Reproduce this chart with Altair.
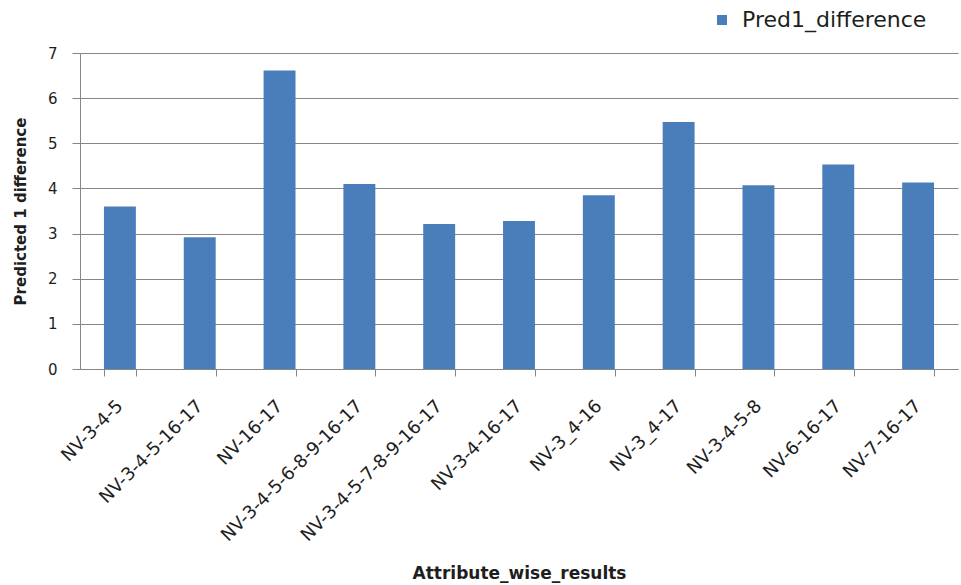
import altair as alt
import pandas as pd

# Attribute combinations and the predicted-1 difference for each
attributes = [
    "NV-3-4-5", "NV-3-4-5-16-17", "NV-16-17", "NV-3-4-5-6-8-9-16-17",
    "NV-3-4-5-7-8-9-16-17", "NV-3-4-16-17", "NV-3_4-16", "NV-3_4-17",
    "NV-3-4-5-8", "NV-6-16-17", "NV-7-16-17",
]
pred1_difference = [3.60, 2.92, 6.61, 4.10, 3.21, 3.28, 3.85, 5.47, 4.07, 4.53, 4.13]
y_ticks = [0, 1, 2, 3, 4, 5, 6, 7]
series_name = "Pred1_difference"

df = pd.DataFrame({
    "attribute": attributes,
    "value": pred1_difference,
    "series": [series_name] * len(attributes),
})

FONT = "DejaVu Sans"
GRID = "#868686"
TEXT = "#1e1e1e"
BAR = "#4a7ebb"

chart = (
    alt.Chart(df)
    .mark_bar(color=BAR)
    .encode(
        x=alt.X(
            "attribute:N",
            sort=attributes,
            scale=alt.Scale(paddingInner=0.6, paddingOuter=0.3),
            axis=alt.Axis(
                title="Attribute_wise_results",
                titleFont=FONT, titleFontSize=17, titleFontWeight="bold", titleColor=TEXT,
                titleX=439, titleY=204, titleBaseline="middle", titleAlign="center",
                labelFont=FONT, labelFontSize=18, labelColor=TEXT,
                labelAngle=315, labelAlign="right", labelBaseline="middle",
                labelPadding=27, labelOverlap=False, labelLimit=400,
                tickBand="extent", tickSize=7, tickColor=GRID,
                domainColor=GRID, grid=False,
            ),
        ),
        y=alt.Y(
            "value:Q",
            scale=alt.Scale(domain=[0, 7], nice=False),
            axis=alt.Axis(
                values=y_ticks,
                title="Predicted 1 difference",
                titleFont=FONT, titleFontSize=15, titleFontWeight="bold", titleColor=TEXT,
                titleX=-60, titleY=158, titleAngle=270, titleBaseline="middle", titleAlign="center",
                labelFont=FONT, labelFontSize=15, labelColor=TEXT, labelPadding=15,
                tickSize=8, tickColor=GRID, domainColor=GRID,
                gridColor=GRID, gridWidth=1,
            ),
        ),
        color=alt.Color(
            "series:N",
            scale=alt.Scale(domain=[series_name], range=[BAR]),
            legend=alt.Legend(
                title=None, orient="none", legendX=631, legendY=-44,
                symbolType="square", symbolSize=100, symbolStrokeWidth=0,
                labelFont=FONT, labelFontSize=22, labelColor=TEXT, labelOffset=9,
                labelLimit=400, padding=0,
            ),
        ),
    )
    .properties(
        width=878,
        height=316,
        autosize=alt.AutoSizeParams(type="none"),
        padding={"left": 80, "top": 53, "right": 3, "bottom": 216},
        background="white",
    )
    .configure_view(stroke=None)
)

chart.save("out.html", embed_options={"renderer": "svg", "actions": False})
